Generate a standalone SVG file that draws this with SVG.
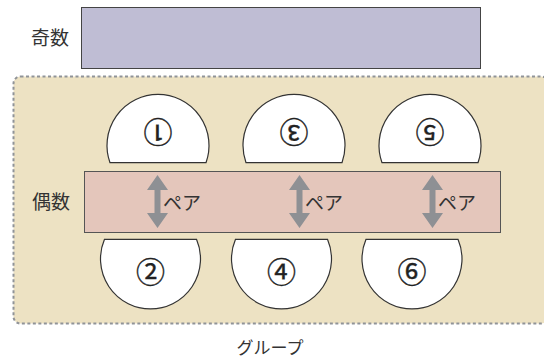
<svg xmlns="http://www.w3.org/2000/svg" width="544" height="361" viewBox="0 0 544 361">
<defs>
<style>
.lbl{font-family:"Noto Sans CJK JP","Noto Sans",sans-serif;fill:#333;}
.seat{fill:#fff;stroke:#333;stroke-width:1.2;}
.num{font-family:"Noto Sans CJK JP",sans-serif;font-size:29px;fill:#222;stroke:#222;stroke-width:0.4;text-anchor:middle;}
.arr{fill:#8e9094;}
</style>
</defs>
<g id="group">
<rect x="13.5" y="76.5" width="535" height="247" rx="7" fill="#ede2c3" stroke="#909398" stroke-width="2" stroke-dasharray="3 2.5"/>
<text class="lbl" x="270" y="354" font-size="17" text-anchor="middle">グループ</text>
</g>
<g id="odd">
<rect x="81.5" y="7.5" width="399" height="61" fill="#bfbdd4" stroke="#444" stroke-width="1"/>
<text class="lbl" x="50" y="45" font-size="19" text-anchor="middle">奇数</text>
</g>
<g id="even">
<rect x="84.5" y="171.5" width="416" height="61" fill="#e4c6bb" stroke="#555" stroke-width="1"/>
<text class="lbl" x="51" y="209" font-size="19" text-anchor="middle">偶数</text>
</g>
<g id="seat1">
<path class="seat" d="M110,162.7 A51,51 0 1 1 206,162.7 Z"/>
<text class="num" transform="rotate(180 158 131.5)" x="158" y="141.8">①</text>
</g>
<g id="seat3">
<path class="seat" d="M246,162.7 A51,51 0 1 1 342,162.7 Z"/>
<text class="num" transform="rotate(180 294 131.5)" x="294" y="141.8">③</text>
</g>
<g id="seat5">
<path class="seat" d="M382,162.7 A51,51 0 1 1 478,162.7 Z"/>
<text class="num" transform="rotate(180 430 131.5)" x="430" y="141.8">⑤</text>
</g>
<g id="seat2">
<path class="seat" d="M104.5,239.3 A50,50 0 1 0 196.5,239.3 Z"/>
<text class="num" x="150.5" y="283">②</text>
</g>
<g id="seat4">
<path class="seat" d="M235.5,239.3 A50,50 0 1 0 327.5,239.3 Z"/>
<text class="num" x="281.5" y="283">④</text>
</g>
<g id="seat6">
<path class="seat" d="M366,239.3 A50,50 0 1 0 458,239.3 Z"/>
<text class="num" x="412" y="283">⑥</text>
</g>
<g id="connectors">
<polygon class="arr" points="157.5,175 168,190 160.5,190 160.5,213 168,213 157.5,228 147,213 154.5,213 154.5,190 147,190"/>
<text class="lbl" x="163" y="210" font-size="19">ペア</text>
<polygon class="arr" points="299.5,175 310,190 302.5,190 302.5,213 310,213 299.5,228 289,213 296.5,213 296.5,190 289,190"/>
<text class="lbl" x="305" y="210" font-size="19">ペア</text>
<polygon class="arr" points="432.5,175 443,190 435.5,190 435.5,213 443,213 432.5,228 422,213 429.5,213 429.5,190 422,190"/>
<text class="lbl" x="438" y="210" font-size="19">ペア</text>
</g>
</svg>
